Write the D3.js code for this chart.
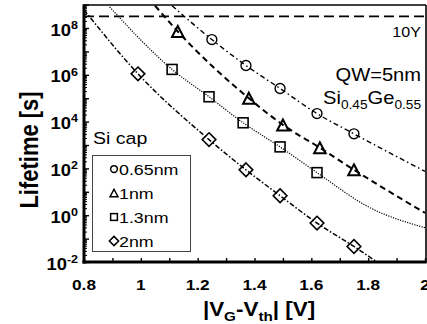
<!DOCTYPE html>
<html>
<head>
<meta charset="utf-8">
<script src="https://cdn.jsdelivr.net/npm/d3@7"></script>
<style>
  body { margin: 0; background: #fff; }
  text { font-family: "Liberation Sans", Arial, sans-serif; fill: #000; }
</style>
</head>
<body>
<div id="chart"></div>
<script>
// measured points, |VG-Vth| [V] and lifetime [s]
const x065 = [1.25, 1.37, 1.49, 1.62, 1.75];
const t065 = [3.2e7, 2.5e6, 2.6e5, 2.2e4, 3.0e3];
const x1 = [1.13, 1.38, 1.50, 1.63, 1.75];
const t1 = [7.1e7, 1.0e5, 7.2e3, 7.6e2, 87];
const x13 = [1.11, 1.24, 1.36, 1.49, 1.62];
const t13 = [1.7e6, 1.15e5, 8.9e3, 8.3e2, 66];
const x2 = [0.99, 1.24, 1.37, 1.49, 1.62, 1.75];
const t2 = [1.1e6, 1.7e3, 87, 6.8, 0.46, 0.046];

// fitted curves
const fitX065 = [1.11, 1.25, 1.37, 1.49, 1.62, 1.75, 2.0];
const fitT065 = [9e8, 3.2e7, 2.5e6, 2.6e5, 2.2e4, 3.0e3, 75];
const fitX1 = [1.05, 1.13, 1.38, 1.50, 1.63, 1.75, 2.0];
const fitT1 = [9e8, 7.1e7, 1.0e5, 7.2e3, 7.6e2, 87, 1.25];
const fitX13 = [0.89, 1.11, 1.24, 1.36, 1.49, 1.62, 1.80, 2.0];
const fitT13 = [8e8, 1.7e6, 1.15e5, 8.9e3, 8.3e2, 66, 2.3, 0.29];
const fitX2 = [0.8, 0.99, 1.24, 1.37, 1.49, 1.62, 1.75, 1.85];
const fitT2 = [6e8, 1.1e6, 1.7e3, 87, 6.8, 0.46, 0.046, 0.007];

const tenYears = 3.15e8;
const seriesNames = ['0.65nm', '1nm', '1.3nm', '2nm'];
const xTickLabels = ['0.8', '1', '1.2', '1.4', '1.6', '1.8', '2'];
const yExponents = [-2, 0, 2, 4, 6, 8];

const W = 427, H = 324;
const SX = 1.15; // picture is a bit stretched sideways
const pLeft = 84, pRight = 426, pTop = 5, pBottom = 262;

const svg = d3.select('#chart').append('svg')
  .attr('width', W).attr('height', H);

const x = d3.scaleLinear().domain([0.8, 2]).range([pLeft, 425]);
const y = d3.scaleLog().domain([1e-2, 1e9]).range([pBottom, 4.6]);

// text with sub/superscripts, stretched like the original
function label(px, py, anchor, size, weight, parts, rotate) {
  const g = svg.append('g')
    .attr('transform', `translate(${px},${py}) scale(${SX},1)` + (rotate ? ' rotate(-90)' : ''));
  const t = g.append('text')
    .attr('text-anchor', anchor)
    .attr('font-size', size)
    .attr('font-weight', weight);
  let shift = 0;
  parts.forEach(p => {
    const s = t.append('tspan').text(p[0]);
    let target = 0;
    if (p[1] === 'sub') target = size * 0.28;
    if (p[1] === 'sup') target = -size * 0.42;
    if (p[1]) s.attr('font-size', size * 0.68);
    if (target !== shift) s.attr('dy', target - shift);
    shift = target;
  });
  return t;
}

svg.append('clipPath').attr('id', 'plot')
  .append('rect').attr('x', pLeft).attr('y', pTop).attr('width', pRight - pLeft).attr('height', pBottom - pTop);

// axes: ticks point inward
const xAxis = svg.append('g')
  .attr('transform', `translate(0,${pBottom})`)
  .call(d3.axisBottom(x).tickValues(d3.range(8, 21).map(d => d / 10)).tickSize(-4).tickFormat(''));
xAxis.select('.domain').remove();
xAxis.selectAll('.tick line').attr('stroke-width', 1.4);
xAxis.selectAll('.tick text').remove();

const minor = [];
for (let e = -2; e < 9; e++) for (let k = 2; k <= 9; k++) minor.push(k * Math.pow(10, e));
const yMinor = svg.append('g')
  .attr('transform', `translate(${pLeft},0)`)
  .call(d3.axisLeft(y).tickValues(minor).tickSize(-3).tickFormat(''));
yMinor.select('.domain').remove();
yMinor.selectAll('.tick line').attr('stroke-width', 1);
yMinor.selectAll('.tick text').remove();

const yMajor = svg.append('g')
  .attr('transform', `translate(${pLeft},0)`)
  .call(d3.axisLeft(y).tickValues(d3.range(-2, 10).map(e => Math.pow(10, e))).tickSize(-5).tickFormat(''));
yMajor.select('.domain').remove();
yMajor.selectAll('.tick line').attr('stroke-width', 1.4);
yMajor.selectAll('.tick text').remove();

// frame
svg.append('line').attr('x1', pLeft).attr('x2', pRight).attr('y1', pTop).attr('y2', pTop)
  .attr('stroke', '#000').attr('stroke-width', 1.6);
svg.append('line').attr('x1', pRight).attr('x2', pRight).attr('y1', pTop).attr('y2', pBottom)
  .attr('stroke', '#000').attr('stroke-width', 1.6);
svg.append('line').attr('x1', pLeft).attr('x2', pLeft).attr('y1', pTop - 0.8).attr('y2', pBottom + 1.5)
  .attr('stroke', '#000').attr('stroke-width', 3);
svg.append('line').attr('x1', pLeft - 1.5).attr('x2', pRight + 0.8).attr('y1', pBottom).attr('y2', pBottom)
  .attr('stroke', '#000').attr('stroke-width', 3);

// tick labels
xTickLabels.forEach(s => {
  label(x(+s), 290, 'middle', 15, 'bold', [[s]]);
});
yExponents.forEach(e => {
  label(78, y(Math.pow(10, e)) + 7.5, 'end', 16, 'bold', [['10'], [String(e), 'sup']]);
});

// axis titles
label(259, 316, 'middle', 19.5, 'bold', [['|V'], ['G', 'sub'], ['-V'], ['th', 'sub'], ['| [V]']]);
label(38, 150, 'middle', 22, 'bold', [['Lifetime [s]']], true);

// 10 years line
svg.append('line')
  .attr('x1', pLeft).attr('x2', pRight)
  .attr('y1', y(tenYears)).attr('y2', y(tenYears))
  .attr('stroke', '#000').attr('stroke-width', 1.6).attr('stroke-dasharray', '10,5');
label(421, 37, 'end', 14, 'normal', [['10Y']]);

label(421, 81, 'end', 17.5, 'normal', [['QW=5nm']]);
label(421, 104, 'end', 17.5, 'normal', [['Si'], ['0.45', 'sub'], ['Ge'], ['0.55', 'sub']]);
label(93, 144, 'start', 17, 'normal', [['Si cap']]);

// fitted curves
const line = d3.line()
  .x(d => x(d[0]))
  .y(d => y(d[1]))
  .curve(d3.curveMonotoneX);

const fits = [
  { xs: fitX065, ts: fitT065, dash: '5,3,1.5,3', w: 1.4 },
  { xs: fitX1, ts: fitT1, dash: '6,4', w: 2 },
  { xs: fitX13, ts: fitT13, dash: '1.2,1.3', w: 1.2 },
  { xs: fitX2, ts: fitT2, dash: '5,2,1.5,2', w: 1.5 }
];
const curves = svg.append('g').attr('clip-path', 'url(#plot)');
fits.forEach(f => {
  curves.append('path')
    .datum(d3.zip(f.xs, f.ts))
    .attr('fill', 'none')
    .attr('stroke', '#000')
    .attr('stroke-width', f.w)
    .attr('stroke-dasharray', f.dash)
    .attr('d', line);
});

// marker shapes, centered on the point
function marker(g, kind, cx, cy, s) {
  if (kind === 0) {
    g.append('circle').attr('cx', cx).attr('cy', cy).attr('r', s * 0.45);
  } else if (kind === 1) {
    const h = s * 0.5;
    g.append('path').attr('d', `M${cx},${cy - h}L${cx + h * 1.05},${cy + h}L${cx - h * 1.05},${cy + h}Z`);
  } else if (kind === 2) {
    const h = s * 0.45;
    g.append('rect').attr('x', cx - h).attr('y', cy - h).attr('width', 2 * h).attr('height', 2 * h);
  } else {
    const h = s * 0.62;
    g.append('path').attr('d', `M${cx},${cy - h}L${cx + h},${cy}L${cx},${cy + h}L${cx - h},${cy}Z`);
  }
}

const points = [[x065, t065], [x1, t1], [x13, t13], [x2, t2]];
const widths = [1.4, 2, 1.6, 1.6];
points.forEach((p, i) => {
  const g = svg.append('g').attr('fill', 'none').attr('stroke', '#000').attr('stroke-width', widths[i]);
  p[0].forEach((vx, j) => marker(g, i, x(vx), y(p[1][j]), 11));
});

// legend
svg.append('rect')
  .attr('x', 92.5).attr('y', 155.5).attr('width', 98).attr('height', 96)
  .attr('fill', 'none').attr('stroke', '#444').attr('stroke-width', 1);
seriesNames.forEach((name, i) => {
  const cy = 169 + i * 24;
  const g = svg.append('g').attr('fill', 'none').attr('stroke', '#000').attr('stroke-width', 1.5);
  marker(g, i, 114, cy, 7.5);
  label(119, cy + 6, 'start', 15.5, 'normal', [[name]]);
});
</script>
</body>
</html>
